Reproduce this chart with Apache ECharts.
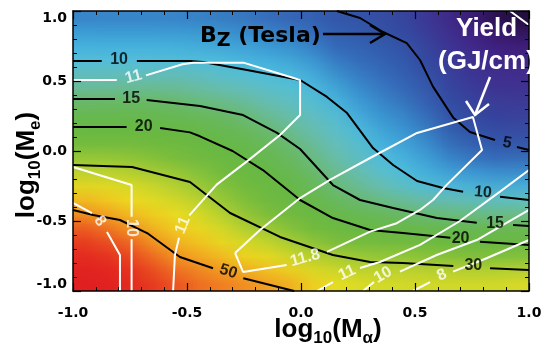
<!DOCTYPE html>
<html>
<head>
<meta charset="utf-8">
<script src="https://cdn.jsdelivr.net/npm/echarts@6/dist/echarts.min.js"></script>
<style>
html, body { margin: 0; padding: 0; background: #fff; }
#wrap { position: relative; width: 544px; height: 356px; overflow: hidden; }
/* the colour field is drawn one pixel per cell, then scaled up to the plot box */
#field { position: absolute; left: 73px; top: 11px; width: 20px; height: 20px;
         transform: scale(22.8, 14); transform-origin: 0 0; image-rendering: auto; }
#chart { position: absolute; left: 0; top: 0; width: 544px; height: 356px; }
</style>
</head>
<body>
<div id="wrap">
  <div id="field"></div>
  <div id="chart"></div>
</div>
<script>
// cell centres of the colour field (log10 Ma across, log10 Me top to bottom)
var maCells = [-0.95, -0.85, -0.75, -0.65, -0.55, -0.45, -0.35, -0.25, -0.15, -0.05,
               0.05, 0.15, 0.25, 0.35, 0.45, 0.55, 0.65, 0.75, 0.85, 0.95];
var meCells = [0.95, 0.85, 0.75, 0.65, 0.55, 0.45, 0.35, 0.25, 0.15, 0.05,
               -0.05, -0.15, -0.25, -0.35, -0.45, -0.55, -0.65, -0.75, -0.85, -0.95];

// Bz (Tesla), one array per Ma column, Me from top to bottom
var bzColumns = [
  [7.0, 8.0, 9.0, 10.0, 11.5, 13.2, 15.3, 17.5, 20.5, 23.5, 27.5, 32, 37, 44, 51, 60, 70, 80, 90, 100],
  [7.0, 8.0, 9.0, 10.0, 11.5, 13.2, 15.3, 17.6, 20.5, 23.5, 27.5, 32, 37, 43, 48, 56, 65, 75, 86, 96],
  [7.0, 8.0, 9.0, 10.0, 11.5, 13.3, 15.4, 17.7, 20.6, 23.6, 27.5, 31.5, 36, 40, 45, 51, 59, 68, 78, 88],
  [7.0, 8.0, 9.0, 10.0, 11.5, 13.3, 15.4, 17.7, 20.5, 23.3, 26.5, 30, 34, 38, 42, 46.5, 52, 59, 67, 76],
  [7.0, 8.0, 9.0, 10.0, 11.6, 13.4, 15.2, 17.4, 20.0, 22.7, 25.5, 28.5, 32, 35.5, 39, 42.5, 46.5, 51, 57, 64],
  [6.9, 7.9, 8.9, 9.9, 11.4, 13.0, 14.6, 16.4, 18.8, 21.5, 24.3, 27, 29.5, 33, 37, 40.5, 44, 48, 53, 58],
  [6.8, 7.6, 8.6, 9.6, 10.9, 12.3, 14.0, 15.8, 17.6, 19.7, 22.2, 24.7, 27.0, 29.2, 32.5, 36.5, 40.5, 45, 50, 55],
  [6.6, 7.4, 8.3, 9.3, 10.4, 11.8, 13.4, 15.1, 16.7, 18.4, 20.2, 22.5, 24.5, 26.5, 28.8, 32, 36, 41, 46.5, 53],
  [6.3, 7.1, 8.0, 9.0, 10.0, 11.1, 12.4, 13.8, 15.3, 16.8, 18.3, 19.9, 21.8, 23.7, 26.0, 29.3, 33.5, 38.5, 44, 50],
  [6.0, 6.8, 7.7, 8.6, 9.6, 10.6, 11.7, 12.8, 14.0, 15.3, 16.6, 18.0, 19.6, 21.7, 24.0, 26.8, 30.5, 35.5, 41, 48],
  [5.7, 6.4, 7.2, 8.1, 9.1, 10.0, 10.9, 11.8, 12.8, 13.7, 14.7, 16.0, 17.5, 19.1, 21.5, 24.0, 27.5, 32, 37, 43],
  [5.1, 5.6, 6.2, 6.9, 7.7, 8.7, 9.8, 10.7, 11.5, 12.3, 13.1, 14.0, 15.0, 16.5, 19.0, 22, 25.5, 30, 34.5, 39],
  [5.0, 5.4, 5.9, 6.4, 7.0, 7.6, 8.3, 9.2, 10.1, 11.0, 11.9, 12.8, 13.8, 15.1, 17.5, 20.5, 24, 28.5, 33, 37],
  [4.6, 5.0, 5.4, 5.9, 6.4, 6.9, 7.4, 8.0, 8.7, 9.4, 10.2, 11.3, 12.6, 14.2, 16.0, 19.2, 23, 27.5, 32, 36],
  [4.2, 4.6, 5.1, 5.5, 5.9, 6.3, 6.8, 7.3, 7.9, 8.6, 9.3, 10.0, 11.2, 13.3, 15.6, 18.7, 22.5, 27.3, 32, 36],
  [3.6, 3.9, 4.3, 4.6, 5.0, 5.5, 6.0, 6.6, 7.2, 7.8, 8.5, 9.3, 10.2, 12.3, 14.7, 18.0, 21.8, 26.5, 31.5, 35.5],
  [2.8, 3.1, 3.4, 3.8, 4.1, 4.4, 4.8, 5.2, 5.8, 6.5, 7.3, 8.2, 9.6, 11.8, 14.2, 17.4, 21.3, 26, 31.5, 35.5],
  [2.2, 2.5, 2.8, 3.1, 3.4, 3.7, 4.1, 4.5, 4.9, 5.6, 6.6, 7.8, 9.2, 11.5, 14.0, 17.2, 20.8, 25.5, 31, 35.5],
  [1.8, 2.1, 2.4, 2.7, 3.0, 3.3, 3.7, 4.1, 4.6, 5.2, 6.2, 7.4, 8.9, 11.3, 13.8, 16.9, 20.5, 25.3, 30.8, 35.5],
  [1.5, 1.8, 2.1, 2.4, 2.7, 3.0, 3.4, 3.8, 4.3, 4.9, 5.9, 7.1, 8.6, 11.0, 13.5, 16.6, 20.3, 25, 30.5, 36]
];

// black Bz contours [log10 Ma, log10 Me], split where the level label sits
var bz5 = [
  [[0.157, 1.0], [0.259, 0.95], [0.36, 0.85], [0.464, 0.77], [0.522, 0.65], [0.579, 0.46], [0.667, 0.24], [0.741, 0.136], [0.851, 0.079]],
  [[0.947, 0.029], [1.0, 0.007]]
];
var bz10 = [
  [[-1.0, 0.643], [-0.874, 0.643]],
  [[-0.72, 0.643], [-0.487, 0.643], [-0.43, 0.635], [-0.237, 0.579], [-0.004, 0.507], [0.114, 0.386], [0.202, 0.271], [0.316, 0.021], [0.404, -0.1], [0.509, -0.214], [0.623, -0.264], [0.711, -0.291]],
  [[0.873, -0.326], [1.0, -0.35]]
];
var bz15 = [
  [[-1.0, 0.371], [-0.816, 0.371]],
  [[-0.677, 0.364], [-0.443, 0.321], [-0.254, 0.257], [-0.105, 0.129], [-0.004, 0.014], [0.14, -0.243], [0.259, -0.35], [0.404, -0.407], [0.596, -0.479], [0.771, -0.512]],
  [[0.93, -0.529], [1.0, -0.536]]
];
var bz20 = [
  [[-1.0, 0.171], [-0.765, 0.171]],
  [[-0.618, 0.164], [-0.487, 0.133], [-0.443, 0.105], [-0.3, 0.0], [-0.167, -0.136], [-0.004, -0.35], [0.14, -0.479], [0.303, -0.564], [0.447, -0.586], [0.655, -0.62]],
  [[0.785, -0.648], [1.0, -0.671]]
];
var bz30 = [
  [[-1.0, -0.1], [-0.741, -0.114], [-0.487, -0.221], [-0.311, -0.443], [-0.092, -0.614], [0.14, -0.743], [0.303, -0.793], [0.447, -0.8], [0.668, -0.821]],
  [[0.829, -0.838], [1.0, -0.85]]
];
var bz50 = [
  [[-1.0, -0.421], [-0.912, -0.457], [-0.794, -0.493], [-0.675, -0.586], [-0.531, -0.757], [-0.386, -0.838]],
  [[-0.253, -0.909], [-0.03, -1.0]]
];

// white yield contours (GJ/cm)
var yield8 = [
  [[-1.0, -0.371], [-0.917, -0.443]],
  [[-0.851, -0.579], [-0.794, -0.743], [-0.794, -1.0]],
  [[0.491, -1.0], [0.566, -0.936]],
  [[0.667, -0.862], [0.814, -0.766], [1.0, -0.636]]
];
var yield10 = [
  [[-1.0, -0.114], [-0.743, -0.243], [-0.743, -0.47]],
  [[-0.743, -0.63], [-0.743, -1.0]],
  [[0.272, -1.0], [0.32, -0.936]],
  [[0.434, -0.862], [0.595, -0.743], [0.771, -0.636], [1.0, -0.42]]
];
var yield11 = [
  [[-0.561, -1.0], [-0.553, -0.743], [-0.535, -0.62]],
  [[-0.49, -0.46], [-0.37, -0.24], [-0.23, -0.065], [-0.092, 0.114], [-0.004, 0.257], [-0.004, 0.507], [-0.253, 0.631], [-0.472, 0.631], [-0.52, 0.62], [-0.68, 0.54]],
  [[-0.808, 0.507], [-1.0, 0.507]],
  [[0.07, -1.0], [0.14, -0.936]],
  [[0.259, -0.836], [0.346, -0.793], [0.522, -0.671], [0.697, -0.5], [0.873, -0.29], [1.0, -0.136]],
  [[0.917, 1.0], [1.0, 0.9]]
];
var yield118 = [
  [[-0.289, -0.729], [-0.18, -0.564], [-0.004, -0.336], [0.127, -0.207], [0.303, -0.05], [0.509, 0.129], [0.754, 0.243], [0.794, 0.007], [0.64, -0.24], [0.579, -0.35], [0.522, -0.421], [0.42, -0.516], [0.303, -0.576], [0.114, -0.721]],
  [[-0.063, -0.814], [-0.254, -0.864], [-0.289, -0.729]]
];

// contour level labels [log10 Ma, log10 Me, text]
var bzLabels = [
  [-0.798, 0.655, '10'], [-0.745, 0.375, '15'], [-0.69, 0.172, '20'], [0.904, 0.057, '5'],
  [0.798, -0.295, '10'], [0.851, -0.515, '15'], [0.70, -0.624, '20'], [0.756, -0.817, '30'],
  [-0.319, -0.862, '50']
];
var bzLabelAngles = [0, 0, 0, -10, -5, 0, 0, 0, -18];
var yieldLabels = [
  [-0.882, -0.50, '8'], [-0.743, -0.55, '10'], [-0.518, -0.53, '11'], [-0.735, 0.53, '11'],
  [0.018, -0.764, '11.8'], [0.202, -0.871, '11'], [0.36, -0.886, '10'], [0.618, -0.886, '8']
];
var yieldLabelAngles = [-55, -90, 68, 15, 15, 25, 30, 25];

var SANS = '"Liberation Sans", Arial, sans-serif';
var TICKFONT = '"DejaVu Sans", sans-serif';

// ---- colour field: heatmap, one pixel per cell ----
var field = echarts.init(document.getElementById('field'), null, { renderer: 'canvas', devicePixelRatio: 1, width: 20, height: 20 });
var heatData = [];
bzColumns.forEach(function (col, i) {
  col.forEach(function (v, j) {
    heatData.push([i, meCells.length - 1 - j, Math.log10(v)]);
  });
});
field.setOption({
  animation: false,
  grid: { left: 0, right: 0, top: 0, bottom: 0, outerBoundsMode: 'none', containLabel: false },
  xAxis: { type: 'category', data: maCells.map(String), show: false },
  yAxis: { type: 'category', data: meCells.slice().reverse().map(String), show: false },
  visualMap: {
    type: 'continuous',
    show: false,
    dimension: 2,
    min: 0.2,
    max: 2.0,
    inRange: {
      color: ['#200c38', '#3c1a70', '#44288a', '#403592', '#3a449c', '#3656a8', '#386cba', '#3c9ad4',
              '#50c0e0', '#6cbfb0', '#6cb860', '#68b844', '#74bc40', '#b4d034', '#f0e020', '#f29a24',
              '#ea4e22', '#e42c22', '#e02020']
    }
  },
  series: [{
    type: 'heatmap',
    data: heatData,
    silent: true,
    emphasis: { disabled: true },
    itemStyle: { borderWidth: 0 }
  }]
});

// ---- axes, contours and labels ----
var chart = echarts.init(document.getElementById('chart'), null, { renderer: 'canvas' });

var series = [];
function addContour(segs, color) {
  segs.forEach(function (seg) {
    series.push({
      type: 'line',
      data: seg,
      symbol: 'none',
      silent: true,
      clip: true,
      lineStyle: { color: color, width: 2 },
      z: 3
    });
  });
}
[bz5, bz10, bz15, bz20, bz30, bz50].forEach(function (c) { addContour(c, '#000'); });
[yield8, yield10, yield11, yield118].forEach(function (c) { addContour(c, '#fff'); });

function addLabels(list, angles, color) {
  series.push({
    type: 'scatter',
    symbolSize: 1,
    silent: true,
    itemStyle: { color: 'transparent' },
    z: 4,
    data: list.map(function (d, i) {
      return { name: d[2], value: [d[0], d[1]], label: { rotate: angles[i] } };
    }),
    label: {
      show: true,
      position: 'inside',
      formatter: '{b}',
      color: color,
      fontSize: 16,
      fontWeight: 'bold',
      fontFamily: SANS
    }
  });
}
addLabels(bzLabels, bzLabelAngles, '#000');
addLabels(yieldLabels, yieldLabelAngles, '#fff');

var titleRich = {
  a: { fontSize: 26, fontWeight: 'bold', fontFamily: SANS, color: '#000', verticalAlign: 'top', lineHeight: 30 },
  s: { fontSize: 17, fontWeight: 'bold', fontFamily: SANS, color: '#000', verticalAlign: 'bottom', lineHeight: 17, padding: [16, 0, 0, 0] }
};

function valueAxis(pos, withLabels) {
  return {
    type: 'value',
    position: pos,
    min: -1,
    max: 1,
    interval: 0.5,
    z: 10,
    axisLine: { show: true, onZero: false, lineStyle: { color: '#000', width: 1.5 } },
    axisTick: { show: true, inside: true, length: 8, lineStyle: { color: '#000', width: 1.2 } },
    minorTick: { show: true, splitNumber: 5, length: 4, lineStyle: { color: '#000', width: 1 } },
    splitLine: { show: false },
    minorSplitLine: { show: false },
    axisLabel: {
      show: withLabels,
      formatter: function (v) { return v.toFixed(1); },
      color: '#000',
      fontSize: 14,
      fontWeight: 'bold',
      fontFamily: TICKFONT,
      margin: 15
    },
    nameMoveOverlap: false
  };
}

var xBottom = valueAxis('bottom', true);
xBottom.name = '{a|log}{s|10}{a|(M}{s|\u03b1}{a|)}';
xBottom.nameLocation = 'middle';
xBottom.nameGap = 26;
xBottom.nameTextStyle = { rich: titleRich, padding: [0, 0, 0, 54] };

var yLeft = valueAxis('left', true);
yLeft.axisLabel.verticalAlignMinLabel = 'bottom';
yLeft.axisLabel.verticalAlignMaxLabel = 'top';
yLeft.axisLabel.margin = 6;
yLeft.name = '{a|log}{s|10}{a|(M}{s|e}{a|)}';
yLeft.nameLocation = 'middle';
yLeft.nameRotate = 90;
yLeft.nameGap = 29;
yLeft.nameTextStyle = { rich: titleRich, padding: [0, 28, 0, 0] };

chart.setOption({
  animation: false,
  backgroundColor: 'transparent',
  grid: { left: 73, right: 15, top: 11, bottom: 65, outerBoundsMode: 'none', containLabel: false },
  xAxis: [xBottom, valueAxis('top', false)],
  yAxis: [yLeft, valueAxis('right', false)],
  graphic: [
    {
      type: 'text', left: 200, top: 20, z: 20,
      style: {
        text: '{a|B}{s|Z}{a| (Tesla)}',
        rich: {
          a: { fontSize: 22, fontWeight: 'bold', fontFamily: TICKFONT, fill: '#000', verticalAlign: 'top', lineHeight: 26 },
          s: { fontSize: 19, fontWeight: 'bold', fontFamily: TICKFONT, fill: '#000', verticalAlign: 'bottom', lineHeight: 19, padding: [12, 0, 0, 0] }
        }
      }
    },
    { type: 'polyline', z: 20, shape: { points: [[323, 34], [384, 34]] }, style: { stroke: '#000', lineWidth: 2.5 } },
    { type: 'polyline', z: 20, shape: { points: [[370, 25], [385, 34], [370, 43]] }, style: { stroke: '#000', lineWidth: 2.5, fill: null } },
    {
      type: 'text', left: 456, top: 16, z: 20,
      style: { text: 'Yield', fontSize: 26, fontWeight: 'bold', fontFamily: SANS, fill: '#fff' }
    },
    {
      type: 'text', left: 438, top: 49, z: 20,
      style: { text: '(GJ/cm)', fontSize: 26, fontWeight: 'bold', fontFamily: SANS, fill: '#fff' }
    },
    { type: 'polyline', z: 20, shape: { points: [[490, 77], [475, 115]] }, style: { stroke: '#fff', lineWidth: 2.5 } },
    { type: 'polyline', z: 20, shape: { points: [[466, 101], [475, 115], [489, 104]] }, style: { stroke: '#fff', lineWidth: 2.5, fill: null } }
  ],
  series: series
});
</script>
</body>
</html>
